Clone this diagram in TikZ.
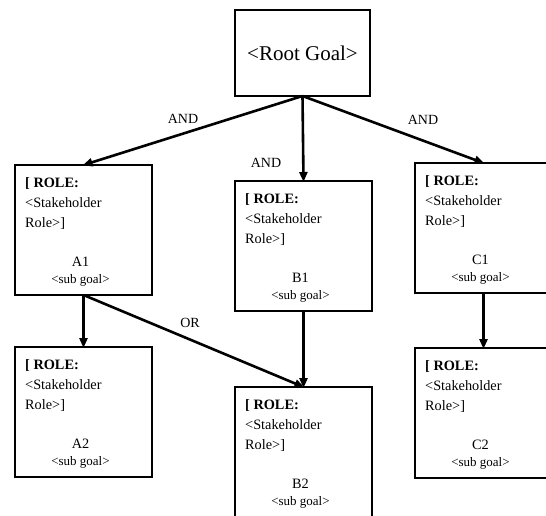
\documentclass[tikz,border=0pt]{standalone}
\usepackage{fontspec}
\setmainfont{Liberation Serif}
\usetikzlibrary{arrows.meta,calc}
\tikzset{
  gbox/.style={draw=black, line width=1.7pt, fill=white, minimum width=137pt, minimum height=130pt, inner sep=0pt, outer sep=0pt, anchor=north west},
  rootbox/.style={draw=black, line width=1.7pt, minimum width=135pt, minimum height=86pt, inner sep=0pt, outer sep=0pt, font=\fontsize{21}{24}\selectfont},
  roletxt/.style={inner sep=0pt, anchor=base west, font=\fontsize{14.3}{16}\selectfont},
  idtxt/.style={inner sep=0pt, anchor=base, font=\fontsize{14.3}{16}\selectfont},
  subtxt/.style={inner sep=0pt, anchor=base, font=\fontsize{13}{15}\selectfont},
  reltxt/.style={inner sep=0pt, font=\fontsize{14}{16}\selectfont},
  arr/.style={line width=2.6pt, -{Triangle[length=10pt,width=8pt]}, shorten >=-1pt}
}
\newcommand{\goalbox}[4]{%
  \node[gbox] (#1) at (#2,#3) {};
  \node[roletxt] (#1-role) at ($(#1.north west)+(10,22)$) {\textbf{[ ROLE:}};
  \node[roletxt] (#1-sh) at ($(#1.north west)+(10,42)$) {<Stakeholder};
  \node[roletxt] (#1-rl) at ($(#1.north west)+(10,62)$) {Role>]};
  \node[idtxt] (#1-id) at ($(#1.north)+(-3,101)$) {#4};
  \node[subtxt] (#1-sg) at ($(#1.north)+(-3,118)$) {<sub goal>};
}
\begin{document}
\begin{tikzpicture}[x=1pt,y=-1pt]
\useasboundingbox (0,0) rectangle (546,516);
\clip (0,0) rectangle (546,516);
\node[rootbox, anchor=north west] (root) at (235,10) {<Root Goal>};
\goalbox{a1}{15}{165}{A1}
\goalbox{b1}{235}{181}{B1}
\goalbox{c1}{415}{163}{C1}
\goalbox{a2}{15}{347}{A2}
\goalbox{b2}{235}{387}{B2}
\goalbox{c2}{415}{348}{C2}
\draw[arr] (root.south) -- (a1.north);
\draw[arr] (root.south) -- (b1.north);
\draw[arr] (root.south) -- (c1.north);
\draw[arr] (a1.south) -- (a2.north);
\draw[arr] (a1.south) -- (b2.north);
\draw[arr] (b1.south) -- (b2.north);
\draw[arr] (c1.south) -- (c2.north);
\node[reltxt] (and1) at (183,119) {AND};
\node[reltxt] (and2) at (266,163) {AND};
\node[reltxt] (and3) at (423,120) {AND};
\node[reltxt] (or1) at (190,323) {OR};
\end{tikzpicture}
\end{document}
